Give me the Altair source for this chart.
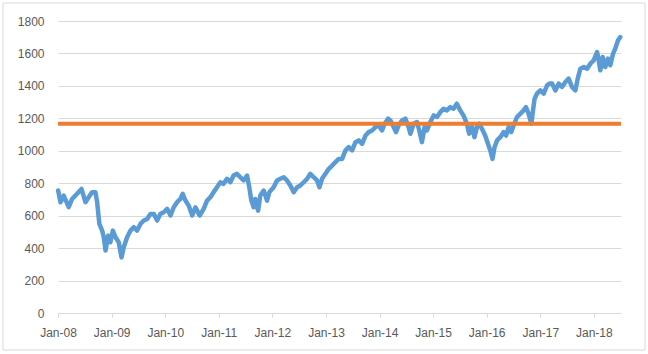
import altair as alt
import pandas as pd

dates = [
    "2008-01-02", "2008-01-18", "2008-02-09", "2008-03-14", "2008-04-06", "2008-05-10",
    "2008-06-09", "2008-07-06", "2008-07-28", "2008-08-21", "2008-09-12", "2008-09-24",
    "2008-10-09", "2008-10-28", "2008-11-08", "2008-11-20", "2008-12-08", "2008-12-23",
    "2009-01-09", "2009-01-27", "2009-02-18", "2009-03-09", "2009-03-24", "2009-04-16",
    "2009-05-09", "2009-05-31", "2009-06-23", "2009-07-16", "2009-08-08", "2009-08-31",
    "2009-09-22", "2009-10-15", "2009-11-07", "2009-11-29", "2009-12-22", "2010-01-14",
    "2010-02-06", "2010-02-28", "2010-03-23", "2010-04-15", "2010-04-30", "2010-05-19",
    "2010-06-10", "2010-07-04", "2010-07-26", "2010-08-18", "2010-08-24", "2010-09-20",
    "2010-10-13", "2010-11-05", "2010-11-27", "2010-12-20", "2011-01-12", "2011-02-03",
    "2011-02-26", "2011-03-21", "2011-04-12", "2011-05-05", "2011-05-28", "2011-06-19",
    "2011-07-13", "2011-07-28", "2011-08-11", "2011-08-27", "2011-09-07", "2011-09-26",
    "2011-10-11", "2011-11-03", "2011-11-26", "2011-12-12", "2012-01-10", "2012-02-02",
    "2012-02-25", "2012-03-18", "2012-04-10", "2012-05-03", "2012-05-26", "2012-06-18",
    "2012-07-10", "2012-08-02", "2012-08-25", "2012-09-16", "2012-10-09", "2012-11-01",
    "2012-11-17", "2012-12-05", "2012-12-28", "2013-01-20", "2013-02-12", "2013-03-06",
    "2013-03-29", "2013-04-21", "2013-05-14", "2013-06-05", "2013-06-28", "2013-07-21",
    "2013-08-12", "2013-09-04", "2013-09-27", "2013-10-19", "2013-11-11", "2013-12-04",
    "2013-12-26", "2014-01-18", "2014-02-05", "2014-02-28", "2014-03-16", "2014-04-07",
    "2014-04-23", "2014-05-11", "2014-06-03", "2014-06-26", "2014-07-18", "2014-07-30",
    "2014-08-22", "2014-09-13", "2014-09-29", "2014-10-17", "2014-11-04", "2014-11-20",
    "2014-12-13", "2015-01-05", "2015-01-28", "2015-02-19", "2015-03-13", "2015-04-05",
    "2015-04-28", "2015-05-20", "2015-06-12", "2015-07-05", "2015-07-27", "2015-08-19",
    "2015-09-04", "2015-09-23", "2015-10-10", "2015-10-27", "2015-11-11", "2015-11-30",
    "2015-12-22", "2016-01-10", "2016-01-26", "2016-02-10", "2016-02-24", "2016-03-12",
    "2016-04-03", "2016-04-26", "2016-05-12", "2016-05-30", "2016-06-17", "2016-07-03",
    "2016-07-26", "2016-08-17", "2016-09-09", "2016-09-25", "2016-10-13", "2016-11-01",
    "2016-11-12", "2016-11-23", "2016-12-09", "2017-01-01", "2017-01-24", "2017-02-16",
    "2017-03-04", "2017-03-22", "2017-04-14", "2017-05-06", "2017-05-29", "2017-06-21",
    "2017-07-13", "2017-08-05", "2017-08-28", "2017-09-13", "2017-10-01", "2017-10-24",
    "2017-11-16", "2017-12-08", "2017-12-31", "2018-01-23", "2018-02-03", "2018-02-14",
    "2018-03-02", "2018-03-20", "2018-04-07", "2018-04-23", "2018-05-12", "2018-05-27",
    "2018-06-15", "2018-06-30",
]

values = [
    755, 683, 724, 652, 703, 735,
    765, 683, 714, 745, 745, 683,
    549, 508, 467, 385, 477, 436,
    508, 467, 436, 343, 405, 467,
    508, 529, 508, 549, 570, 580,
    611, 611, 570, 611, 621, 642,
    601, 652, 683, 703, 735, 693,
    662, 601, 652, 611, 601, 642,
    693, 714, 745, 775, 806, 796,
    827, 806, 847, 858, 837, 817,
    847, 775, 693, 652, 703, 631,
    724, 755, 693, 745, 775, 817,
    827, 837, 817, 786, 745, 775,
    786, 806, 827, 858, 837, 817,
    775, 827, 858, 889, 909, 930,
    950, 950, 1002, 1022, 1002, 1053,
    1064, 1043, 1094, 1115, 1125, 1146,
    1156, 1125, 1167, 1198, 1187, 1146,
    1115, 1156, 1187, 1198, 1146, 1105,
    1167, 1177, 1125, 1053, 1146, 1125,
    1177, 1218, 1208, 1238, 1259, 1249,
    1269, 1259, 1290, 1249, 1218, 1167,
    1105, 1146, 1084, 1146, 1167, 1136,
    1094, 1043, 1002, 950, 1022, 1064,
    1084, 1115, 1094, 1146, 1115, 1156,
    1208, 1228, 1249, 1269, 1228, 1167,
    1249, 1321, 1352, 1372, 1352, 1403,
    1414, 1414, 1372, 1414, 1393, 1424,
    1445, 1393, 1372, 1445, 1506, 1516,
    1506, 1537, 1557, 1609, 1557, 1496,
    1578, 1516, 1568, 1527, 1599, 1630,
    1681, 1701,
]

threshold = 1167
tick_years = list(range(2008, 2019))
y_ticks = [0, 200, 400, 600, 800, 1000, 1200, 1400, 1600, 1800]

df = pd.DataFrame({"date": dates, "value": values})
lvl = pd.DataFrame({"level": [threshold]})

FONT = "Liberation Sans"
GRID = "#D9D9D9"
LABEL = "#595959"

x_enc = alt.X(
    "date:T",
    scale=alt.Scale(
        type="utc",
        domain=[alt.DateTime(year=2008, month=1, date=1, utc=True),
                alt.DateTime(year=2018, month=7, date=5, utc=True)],
    ),
    axis=alt.Axis(
        values=[alt.DateTime(year=y, month=1, date=1, utc=True) for y in tick_years],
        format="%b-%y",
        title=None,
        grid=False,
        domainColor=GRID,
        tickColor=GRID,
        tickSize=4,
        labelPadding=10,
        labelColor=LABEL,
        labelFont=FONT,
        labelFontSize=12,
        labelAngle=0,
        labelOverlap=False,
        labelBound=False,
        labelFlush=False,
    ),
)

y_scale = alt.Scale(domain=[0, 1800], nice=False)
y_axis = alt.Axis(
    values=y_ticks,
    format="d",
    title=None,
    domain=False,
    ticks=False,
    gridColor=GRID,
    gridWidth=1,
    labelPadding=14,
    labelColor=LABEL,
    labelFont=FONT,
    labelFontSize=12,
    labelOverlap=False,
    labelFlush=False,
)

line = alt.Chart(df).mark_line(
    color="#5B9BD5", strokeWidth=4.5, strokeJoin="round", strokeCap="round"
).encode(
    x=x_enc,
    y=alt.Y("value:Q", scale=y_scale, axis=y_axis),
)

rule = alt.Chart(lvl).mark_rule(color="#ED7D31", strokeWidth=4).encode(
    y=alt.Y("level:Q", scale=y_scale, axis=y_axis)
)

border = alt.Chart(pd.DataFrame({"a": [0]})).mark_rect(
    fill="transparent", stroke=GRID, strokeWidth=1
).encode(
    x=alt.value(-55), x2=alt.value(587), y=alt.value(-18), y2=alt.value(329)
)

chart = alt.layer(line, rule, border).properties(
    width=563,
    height=292,
    autosize=alt.AutoSizeParams(type="none"),
    padding={"left": 58, "top": 21, "right": 27, "bottom": 41},
    background="white",
).configure_view(stroke=None)

chart.save("out.html", embed_options={"renderer": "svg", "actions": False})
